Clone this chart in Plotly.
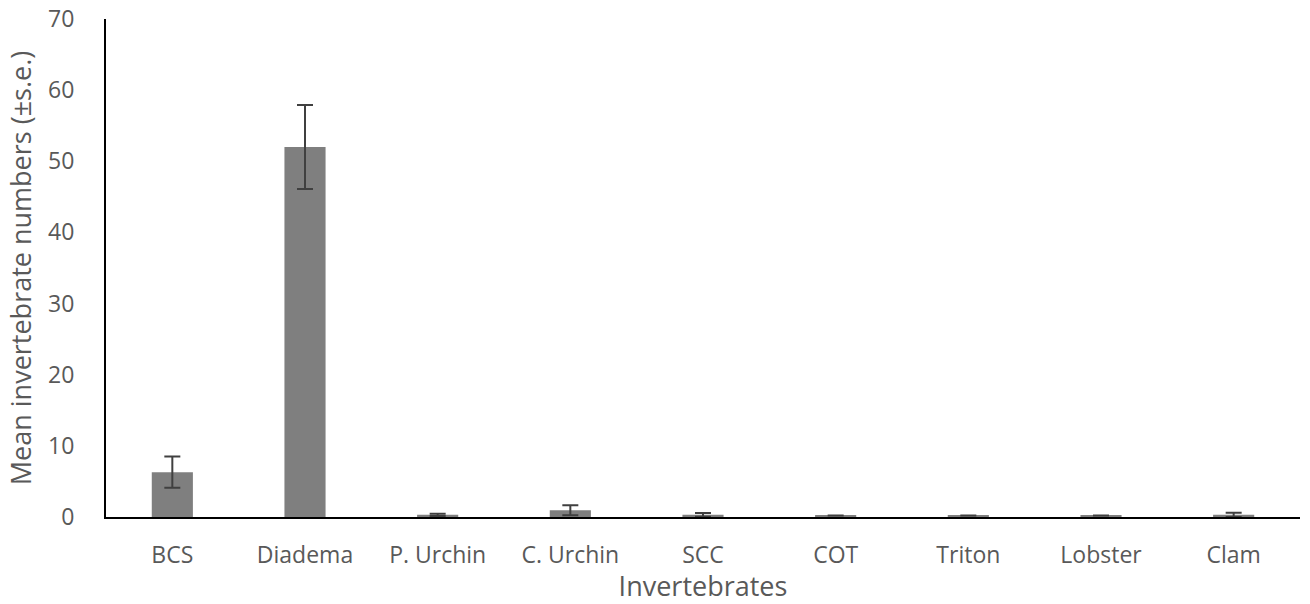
import plotly.graph_objects as go

categories = ["BCS", "Diadema", "P. Urchin", "C. Urchin", "SCC", "COT", "Triton", "Lobster", "Clam"]
means = [6.3, 52.0, 0.3, 0.95, 0.3, 0.2, 0.2, 0.2, 0.3]
se = [2.2, 5.9, 0.15, 0.7, 0.25, 0.0, 0.0, 0.0, 0.3]
y_ticks = [0, 10, 20, 30, 40, 50, 60, 70]

font_family = "Open Sans, Lato, sans-serif"
txt = "#595959"

fig = go.Figure(go.Bar(
    x=categories, y=means,
    marker=dict(color="#7f7f7f", line=dict(width=0)),
    error_y=dict(type="data", array=se, visible=True, color="#404040", thickness=2, width=8),
))

fig.update_layout(
    width=1310, height=604,
    margin=dict(l=106, r=10, t=19, b=87),
    paper_bgcolor="white", plot_bgcolor="white",
    bargap=0.69,
    showlegend=False,
    font=dict(family=font_family, color=txt, size=23),
)
fig.update_xaxes(
    automargin=False,
    showline=True, linecolor="black", linewidth=2,
    showgrid=False, ticks="", ticklabelstandoff=16,
    title=dict(text="Invertebrates", standoff=2, font=dict(size=27, color=txt)),
    tickfont=dict(size=23, color=txt),
)
fig.update_yaxes(
    automargin=False,
    range=[0, 70], tickvals=y_ticks,
    showline=True, linecolor="black", linewidth=2,
    showgrid=False, zeroline=False, ticks="", ticklabelstandoff=25,
    title=dict(text="Mean invertebrate numbers (±s.e.)", standoff=9, font=dict(size=27, color=txt)),
    tickfont=dict(size=23, color=txt),
)

fig.write_html(
    "out.html",
    config={"displayModeBar": False},
    post_script="document.body.style.margin='0';document.body.style.padding='0';document.body.style.overflow='hidden';",
)
